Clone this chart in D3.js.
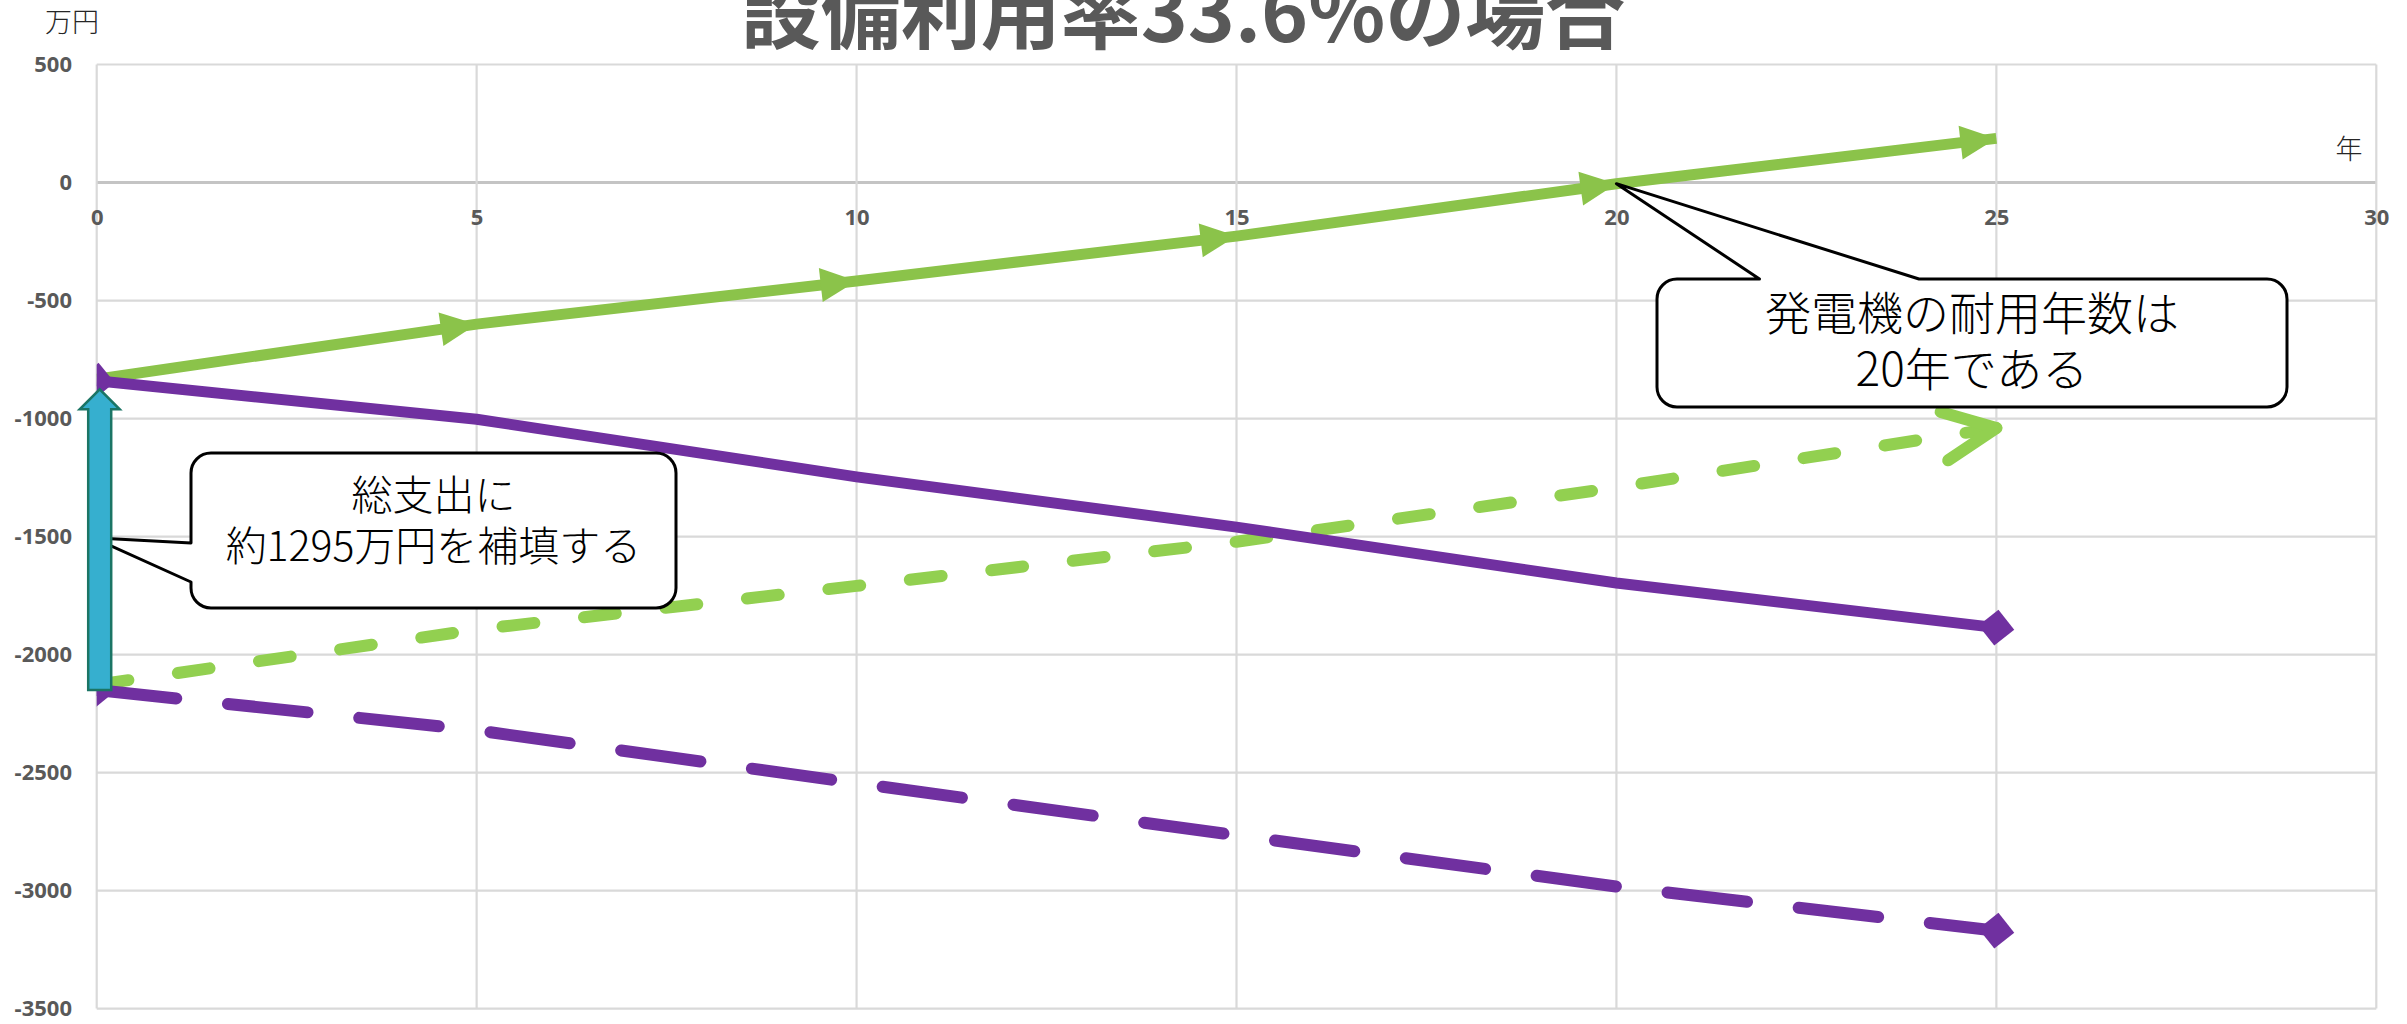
<!DOCTYPE html>
<html><head><meta charset="utf-8">
<script src="https://cdn.jsdelivr.net/npm/d3@7"></script>
<style>html,body{margin:0;padding:0;background:#fff;overflow:hidden}</style>
</head><body>
<script>
// ---- data ----
const titleText = "設備利用率33.6%の場合";
const years = [0, 5, 10, 15, 20, 25];
const xTicks = [0, 5, 10, 15, 20, 25, 30];
const yTicks = [500, 0, -500, -1000, -1500, -2000, -2500, -3000, -3500];
const greenSolid = [-833, -600, -417, -227, -5, 187];
const greenDashed = [-2128, -1894, -1709, -1522, -1292, -1040];
const purpleSolid = [-840, -1003, -1247, -1460, -1697, -1886];
const purpleDashed = [-2150, -2321, -2545, -2766, -2983, -3170];
const subsidyArrow = [-2150, -876];          // from, to (万円) at year 0
const callout1Lines = ["総支出に", "約1295万円を補填する"];
const callout1Target = [0, -1505];
const callout2Lines = ["発電機の耐用年数は", "20年である"];
const callout2Target = [20, -5];
const yUnit = "万円", xUnit = "年";

// ---- setup ----
const W = 2407, H = 1024;
const svg = d3.select("body").append("svg").attr("width", W).attr("height", H)
  .style("display", "block");
const x = d3.scaleLinear().domain([0, 30]).range([96.7, 2376.3]);
const y = d3.scaleLinear().domain([-3500, 500]).range([1008.6, 64.5]);

const GREEN = "#8BC34A", LGREEN = "#92D050", PURPLE = "#7030A0";
const tickFont = "'Noto Sans', 'Liberation Sans', sans-serif";
const cjkFont = "'Noto Sans CJK JP', 'Noto Sans', sans-serif";

// title
svg.append("text").attr("x", 1183).attr("y", 42)
  .attr("text-anchor", "middle").attr("font-family", cjkFont)
  .attr("font-weight", 700).attr("font-size", 80).attr("fill", "#595959")
  .text(titleText);

// gridlines
const grid = svg.append("g");
grid.selectAll("line.h").data(yTicks).join("line")
  .attr("x1", x(0)).attr("x2", x(30))
  .attr("y1", d => y(d)).attr("y2", d => y(d))
  .attr("stroke", d => d === 0 ? "#C4C4C4" : "#D9D9D9")
  .attr("stroke-width", d => d === 0 ? 2.8 : 2.2);
grid.selectAll("line.v").data(xTicks).join("line")
  .attr("y1", y(500)).attr("y2", y(-3500))
  .attr("x1", d => x(d)).attr("x2", d => x(d))
  .attr("stroke", "#D9D9D9").attr("stroke-width", 2.2);

// axes (labels only)
const fmt = d => String(d);
const yAxis = d3.axisLeft(y).tickValues(yTicks).tickSize(0).tickPadding(24.7).tickFormat(fmt);
const gy = svg.append("g").attr("transform", `translate(${x(0)},0)`).call(yAxis);
const xAxis = d3.axisBottom(x).tickValues(xTicks).tickSize(0).tickPadding(27).tickFormat(fmt);
const gx = svg.append("g").attr("transform", `translate(0,${y(0)})`).call(xAxis);
[gx, gy].forEach(g => {
  g.select(".domain").remove();
  g.selectAll("text").attr("font-family", tickFont).attr("font-weight", 700)
    .attr("font-size", 22).attr("fill", "#595959");
});

// unit labels
svg.append("text").attr("x", 72).attr("y", 23).attr("dy", "0.35em")
  .attr("text-anchor", "middle").attr("font-family", cjkFont).attr("font-weight", 300)
  .attr("font-size", 27).attr("fill", "#262626").text(yUnit);
svg.append("text").attr("x", 2349).attr("y", 150).attr("dy", "0.35em")
  .attr("text-anchor", "middle").attr("font-family", cjkFont).attr("font-weight", 300)
  .attr("font-size", 27).attr("fill", "#262626").text(xUnit);

// clip to plot area
svg.append("defs").append("clipPath").attr("id", "plotclip").append("rect")
  .attr("x", x(0)).attr("y", y(500)).attr("width", x(30) - x(0)).attr("height", y(-3500) - y(500));
const plot = svg.append("g").attr("clip-path", "url(#plotclip)");

const line = d3.line().x((d, i) => x(years[i])).y(d => y(d));
const pts = arr => arr.map((v, i) => [x(years[i]), y(v)]);

function drawSeries(vals, color, width, dash) {
  const p = plot.append("path").datum(vals).attr("d", line)
    .attr("fill", "none").attr("stroke", color).attr("stroke-width", width)
    .attr("stroke-linejoin", "round");
  if (dash) p.attr("stroke-dasharray", dash).attr("stroke-linecap", "round");
  return p;
}
function angleAt(P, i, from) {
  const a = P[from], b = P[i];
  return Math.atan2(b[1] - a[1], b[0] - a[0]);
}
function triangleHead(g, P, i, from, color, L, hw) {
  const ang = angleAt(P, i, from);
  const [tx, ty] = P[i];
  const bx = tx - L * Math.cos(ang), by = ty - L * Math.sin(ang);
  const nx = -Math.sin(ang), ny = Math.cos(ang);
  g.append("path").attr("d",
    `M${tx},${ty}L${bx + nx * hw},${by + ny * hw}L${bx - nx * hw},${by - ny * hw}Z`)
    .attr("fill", color);
}
function diamond(g, P, i, from, color, r) {
  const ang = angleAt(P, i, from) * 180 / Math.PI;
  const [cx, cy] = P[i];
  g.append("path").attr("d", `M${r},0L0,${r}L${-r},0L0,${-r}Z`)
    .attr("transform", `translate(${cx},${cy}) rotate(${ang})`).attr("fill", color);
}

// green dashed (lower layer)
drawSeries(greenDashed, LGREEN, 12, "32,50");
{
  const P = pts(greenDashed), n = P.length - 1;
  const ang = angleAt(P, n, n - 1) + Math.PI;
  const [tx, ty] = P[n], L = 58, sp = 25 * Math.PI / 180;
  const a1 = [tx + L * Math.cos(ang - sp), ty + L * Math.sin(ang - sp)];
  const a2 = [tx + L * Math.cos(ang + sp), ty + L * Math.sin(ang + sp)];
  plot.append("path").attr("d", `M${a1}L${tx},${ty}L${a2}`)
    .attr("fill", "none").attr("stroke", LGREEN).attr("stroke-width", 12)
    .attr("stroke-linecap", "round").attr("stroke-linejoin", "round");
}
// green solid with arrowheads at each point
drawSeries(greenSolid, GREEN, 11);
{
  const P = pts(greenSolid);
  for (let i = 1; i < P.length; i++) triangleHead(plot, P, i, i - 1, GREEN, 36, 17);
}
// purple dashed
drawSeries(purpleDashed, PURPLE, 12, "80,52");
{
  const P = pts(purpleDashed);
  diamond(plot, P, 0, 1, PURPLE, 18);
  diamond(plot, P, P.length - 1, P.length - 2, PURPLE, 18);
}
// purple solid
drawSeries(purpleSolid, PURPLE, 11);
{
  const P = pts(purpleSolid);
  diamond(plot, P, 0, 1, PURPLE, 18);
  diamond(plot, P, P.length - 1, P.length - 2, PURPLE, 18);
}

// callouts
function calloutPath(l, t, r, b, rad, ptr) {
  let d = `M${l + rad},${t}`;
  if (ptr.side === "top") d += `L${ptr.a},${t}L${ptr.tip[0]},${ptr.tip[1]}L${ptr.b},${t}`;
  d += `L${r - rad},${t}A${rad},${rad} 0 0 1 ${r},${t + rad}`;
  d += `L${r},${b - rad}A${rad},${rad} 0 0 1 ${r - rad},${b}`;
  d += `L${l + rad},${b}A${rad},${rad} 0 0 1 ${l},${b - rad}`;
  if (ptr.side === "left") d += `L${l},${ptr.b}L${ptr.tip[0]},${ptr.tip[1]}L${l},${ptr.a}`;
  d += `L${l},${t + rad}A${rad},${rad} 0 0 1 ${l + rad},${t}Z`;
  return d;
}
function callout(box, ptr, lines, centers, fs) {
  const g = svg.append("g");
  g.append("path").attr("d", calloutPath(box[0], box[1], box[2], box[3], 20, ptr))
    .attr("fill", "#fff").attr("stroke", "#000").attr("stroke-width", 3)
    .attr("stroke-linejoin", "round");
  const cx = (box[0] + box[2]) / 2;
  const txt = g.append("text").attr("text-anchor", "middle").attr("font-family", cjkFont)
    .attr("font-weight", 300).attr("font-size", fs).attr("fill", "#000");
  lines.forEach((t, i) => {
    txt.append("tspan").attr("x", cx).attr("y", centers[i]).attr("dy", "0.36em").text(t);
  });
}
callout([191, 453, 676, 608],
  { side: "left", a: 543, b: 582, tip: [x(callout1Target[0]) - 4, y(callout1Target[1])] },
  callout1Lines, [495, 546], 41);
callout([1657, 279, 2287, 407],
  { side: "top", a: 1759.5, b: 1919, tip: [x(callout2Target[0]), y(callout2Target[1])] },
  callout2Lines, [313, 369], 46);

// subsidy arrow (blue)
{
  const cx = x(0) + 3, yb = y(subsidyArrow[0]), yt = y(subsidyArrow[1]);
  const sw = 11.5, hw = 20, hl = 20;
  svg.append("path").attr("d",
    `M${cx - sw},${yb}L${cx - sw},${yt + hl}L${cx - hw},${yt + hl}L${cx},${yt}` +
    `L${cx + hw},${yt + hl}L${cx + sw},${yt + hl}L${cx + sw},${yb}Z`)
    .attr("fill", "#36AFCF").attr("stroke", "#1B7565").attr("stroke-width", 2.5)
    .attr("stroke-linejoin", "miter");
}
</script>
</body></html>
